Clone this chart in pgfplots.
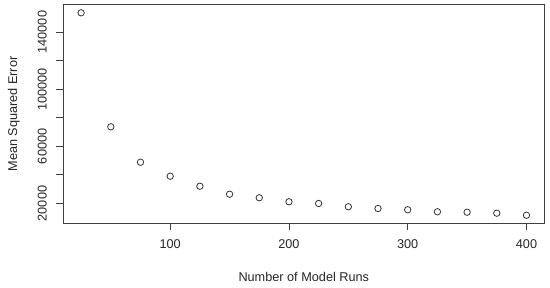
\documentclass[border=0pt]{standalone}
\usepackage{pgfplots}
\pgfplotsset{compat=1.18}
\usepackage{fontspec}
\setmainfont{Liberation Sans}
\begin{document}
\begin{tikzpicture}[x=1pt,y=1pt]
\useasboundingbox (0,0) rectangle (550,288);
\begin{axis}[
  at={(63.3pt,64.7pt)}, anchor=south west,
  width=481pt, height=218.6pt, scale only axis,
  xmin=10, xmax=415, ymin=6130, ymax=159170,
  scaled y ticks=false, scaled x ticks=false,
  axis line style={black!75, line width=0.9pt},
  xtick={100,200,300,400},
  ytick={20000,40000,60000,80000,100000,120000,140000},
  yticklabels={20000,,60000,,100000,,140000},
  xticklabels={100,200,300,400},
  tick align=outside,
  tick style={black!75, line width=0.9pt},
  major tick length=7pt,
  xtick pos=bottom, ytick pos=left,
  ticklabel style={font=\fontsize{12.7}{14}\selectfont, text=black!85},
  yticklabel style={rotate=90, anchor=south},
  yticklabel shift=6pt,
  xticklabel shift=6pt,
  xticklabel style={anchor=north},
  label style={font=\fontsize{12.7}{14}\selectfont, text=black!85},
  xlabel={Number of Model Runs},
  ylabel={Mean Squared Error},
  xlabel style={at={(axis description cs:0.5,0)}, yshift=-45pt},
  ylabel style={at={(axis description cs:0,0.5)}, yshift=40pt},
]
\addplot[only marks, mark=o, mark size=3.2pt, black!80, line width=0.8pt] coordinates {
(25,153500) (50,73700) (75,48900) (100,39100) (125,32100) (150,26500)
(175,24000) (200,21200) (225,20000) (250,17700) (275,16500) (300,15600)
(325,14200) (350,13900) (375,13200) (400,11800)
};
\end{axis}
\end{tikzpicture}
\end{document}
